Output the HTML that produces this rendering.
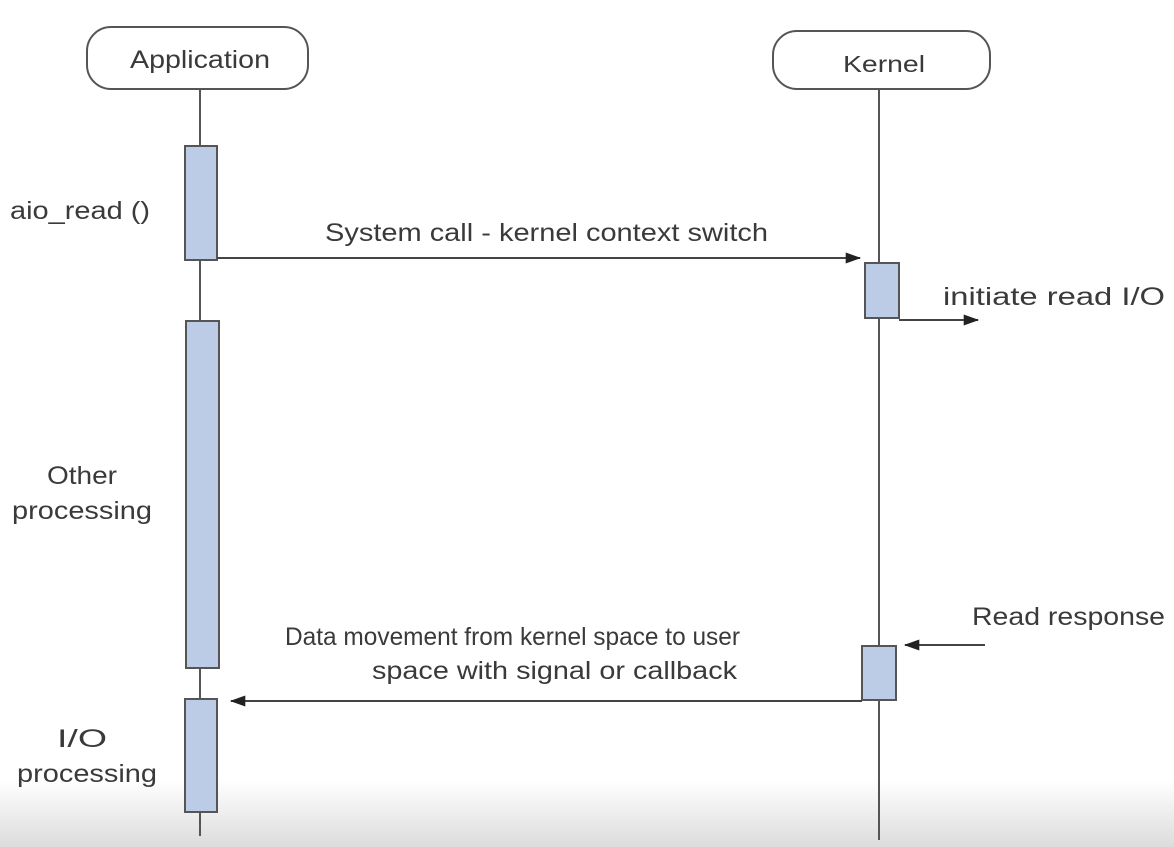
<!DOCTYPE html>
<html><head><meta charset="utf-8"><style>
html,body{margin:0;padding:0;background:#fff;}
svg{display:block;}
text{font-family:"Liberation Sans",sans-serif;fill:#3a3a3a;}
</style></head><body>
<svg width="1174" height="847" viewBox="0 0 1174 847" xmlns="http://www.w3.org/2000/svg">
<defs>
<linearGradient id="g" x1="0" y1="0" x2="0" y2="1">
<stop offset="0" stop-color="#ffffff"/><stop offset="1" stop-color="#dcdcdc"/>
</linearGradient>
<marker id="ah2" viewBox="0 0 14 10" refX="13" refY="5" markerWidth="16" markerHeight="11" markerUnits="userSpaceOnUse" orient="auto">
<path d="M0,0 L14,5 L0,10 z" fill="#222"/></marker>
</defs>
<rect x="0" y="780" width="1174" height="67" fill="url(#g)"/>
<line x1="200" y1="89" x2="200" y2="836" stroke="#555" stroke-width="2"/>
<line x1="879" y1="89" x2="879" y2="840" stroke="#555" stroke-width="2"/>
<rect x="87" y="27" width="221" height="62" rx="24" fill="#fff" stroke="#555" stroke-width="2"/>
<text x="130" y="68" font-size="25" textLength="140" lengthAdjust="spacingAndGlyphs">Application</text>
<rect x="773" y="31" width="217" height="58" rx="24" fill="#fff" stroke="#555" stroke-width="2"/>
<text x="843" y="72" font-size="23" textLength="82" lengthAdjust="spacingAndGlyphs">Kernel</text>
<g fill="#bccbe6" stroke="#555" stroke-width="2">
<rect x="185" y="146" width="32" height="114"/>
<rect x="186" y="321" width="33" height="347"/>
<rect x="185" y="699" width="32" height="113"/>
<rect x="865" y="263" width="34" height="55"/>
<rect x="862" y="646" width="34" height="54"/>
</g>
<line x1="217" y1="258" x2="860" y2="258" stroke="#444" stroke-width="2" marker-end="url(#ah2)"/>
<line x1="899" y1="320" x2="978" y2="320" stroke="#444" stroke-width="2" marker-end="url(#ah2)"/>
<line x1="985" y1="645" x2="905" y2="645" stroke="#444" stroke-width="2" marker-end="url(#ah2)"/>
<line x1="862" y1="701" x2="231" y2="701" stroke="#444" stroke-width="2" marker-end="url(#ah2)"/>
<text x="325" y="241" font-size="25" textLength="443" lengthAdjust="spacingAndGlyphs">System call - kernel context switch</text>
<text x="943" y="305" font-size="25" textLength="222" lengthAdjust="spacingAndGlyphs">initiate read I/O</text>
<text x="972" y="625" font-size="25" textLength="193" lengthAdjust="spacingAndGlyphs">Read response</text>
<text x="285" y="645" font-size="25" textLength="455" lengthAdjust="spacingAndGlyphs">Data movement from kernel space to user</text>
<text x="372" y="679" font-size="25" textLength="365" lengthAdjust="spacingAndGlyphs">space with signal or callback</text>
<text x="10" y="219" font-size="25" textLength="140" lengthAdjust="spacingAndGlyphs">aio_read ()</text>
<text x="47" y="484" font-size="25" textLength="70" lengthAdjust="spacingAndGlyphs">Other</text>
<text x="12" y="519" font-size="25" textLength="140" lengthAdjust="spacingAndGlyphs">processing</text>
<text x="57" y="747" font-size="25" textLength="50" lengthAdjust="spacingAndGlyphs">I/O</text>
<text x="17" y="782" font-size="25" textLength="140" lengthAdjust="spacingAndGlyphs">processing</text>
</svg>
</body></html>
